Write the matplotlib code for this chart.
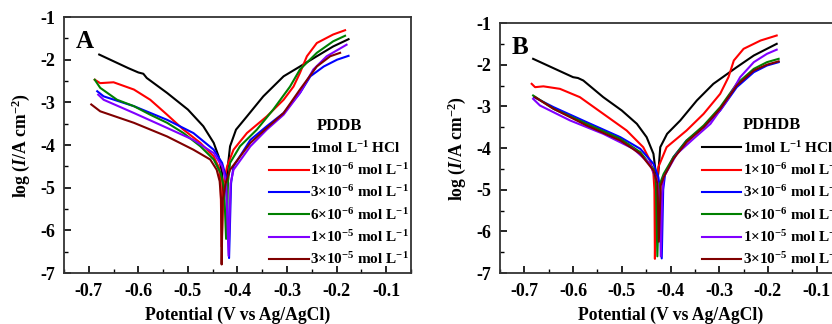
import matplotlib
matplotlib.use('Agg')
import matplotlib.pyplot as plt
from matplotlib.ticker import MultipleLocator

plt.rcParams['font.family'] = 'Liberation Serif'
plt.rcParams['font.weight'] = 'bold'
plt.rcParams['mathtext.fontset'] = 'custom'
plt.rcParams['mathtext.rm'] = 'Liberation Serif:bold'
plt.rcParams['mathtext.bf'] = 'Liberation Serif:bold'
plt.rcParams['mathtext.it'] = 'Liberation Serif:italic:bold'

labels = ['1mol L$^{-1}$ HCl', '1×10$^{-6}$ mol L$^{-1}$', '3×10$^{-6}$ mol L$^{-1}$',
          '6×10$^{-6}$ mol L$^{-1}$', '1×10$^{-5}$ mol L$^{-1}$', '3×10$^{-5}$ mol L$^{-1}$']
colors = ['black', '#ff0000', '#0000ff', '#008000', '#8000ff', '#800000']

# ---- panel A (PDDB): potential (V) and log I
A_E = [
    [-0.679, -0.62, -0.600, -0.590, -0.583, -0.542, -0.500, -0.469, -0.448, -0.438, -0.431, -0.428,
     -0.424, -0.421, -0.415, -0.403, -0.381, -0.348, -0.307, -0.274, -0.240, -0.207, -0.176],
    [-0.688, -0.677, -0.650, -0.609, -0.576, -0.542, -0.509, -0.475, -0.448, -0.437, -0.434, -0.432,
     -0.428, -0.421, -0.408, -0.381, -0.341, -0.307, -0.287, -0.274, -0.260, -0.240, -0.207, -0.183],
    [-0.683, -0.670, -0.609, -0.542, -0.489, -0.448, -0.431, -0.422, -0.417, -0.413, -0.408, -0.374,
     -0.341, -0.307, -0.274, -0.253, -0.226, -0.199, -0.176],
    [-0.688, -0.677, -0.643, -0.609, -0.576, -0.542, -0.509, -0.475, -0.448, -0.434, -0.427, -0.423,
     -0.419, -0.415, -0.395, -0.361, -0.328, -0.294, -0.274, -0.240, -0.207, -0.183],
    [-0.681, -0.670, -0.609, -0.542, -0.489, -0.448, -0.431, -0.423, -0.418, -0.414, -0.408, -0.374,
     -0.341, -0.307, -0.274, -0.247, -0.220, -0.180],
    [-0.695, -0.677, -0.609, -0.542, -0.489, -0.455, -0.442, -0.436, -0.433, -0.432, -0.430, -0.424,
     -0.415, -0.374, -0.341, -0.307, -0.274, -0.240, -0.213, -0.193],
]
A_logI = [
    [-1.88, -2.2, -2.30, -2.33, -2.43, -2.78, -3.17, -3.56, -3.95, -4.27, -4.66, -5.30,
     -4.95, -4.66, -4.03, -3.64, -3.33, -2.86, -2.39, -2.16, -1.92, -1.69, -1.52],
    [-2.47, -2.55, -2.53, -2.70, -2.94, -3.29, -3.64, -3.95, -4.27, -4.54, -4.90, -6.38,
     -4.90, -4.50, -4.11, -3.72, -3.33, -2.94, -2.63, -2.31, -1.92, -1.61, -1.41, -1.31],
    [-2.74, -2.86, -3.09, -3.41, -3.72, -4.11, -4.42, -4.80, -6.65, -4.90, -4.50, -3.88,
     -3.56, -3.25, -2.78, -2.39, -2.16, -2.00, -1.91],
    [-2.47, -2.66, -2.94, -3.09, -3.29, -3.48, -3.72, -4.03, -4.34, -4.66, -5.00, -6.20,
     -4.85, -4.42, -4.03, -3.64, -3.17, -2.63, -2.23, -1.84, -1.57, -1.44],
    [-2.82, -2.94, -3.25, -3.60, -3.88, -4.19, -4.50, -4.85, -6.60, -4.90, -4.58, -4.03,
     -3.64, -3.29, -2.78, -2.23, -1.92, -1.65],
    [-3.05, -3.21, -3.48, -3.80, -4.11, -4.34, -4.58, -4.85, -5.30, -6.80, -5.30, -4.90,
     -4.58, -3.95, -3.60, -3.25, -2.70, -2.16, -1.92, -1.84],
]

# ---- panel B (PDHDB)
B_E = [
    [-0.682, -0.600, -0.590, -0.579, -0.538, -0.500, -0.469, -0.449, -0.435, -0.430, -0.428,
     -0.425, -0.421, -0.407, -0.380, -0.346, -0.312, -0.264, -0.229, -0.182],
    [-0.685, -0.678, -0.661, -0.627, -0.586, -0.538, -0.490, -0.456, -0.442, -0.435, -0.433, -0.432,
     -0.430, -0.425, -0.408, -0.367, -0.332, -0.298, -0.281, -0.270, -0.250, -0.215, -0.182],
    [-0.680, -0.640, -0.572, -0.503, -0.462, -0.435, -0.425, -0.420, -0.418, -0.415, -0.411, -0.394,
     -0.367, -0.332, -0.298, -0.264, -0.229, -0.202, -0.178],
    [-0.682, -0.640, -0.572, -0.503, -0.462, -0.435, -0.430, -0.427, -0.423, -0.414, -0.394,
     -0.367, -0.332, -0.298, -0.264, -0.229, -0.202, -0.178],
    [-0.682, -0.668, -0.606, -0.538, -0.476, -0.442, -0.428, -0.422, -0.420, -0.417, -0.414, -0.387,
     -0.353, -0.318, -0.284, -0.257, -0.229, -0.202, -0.182],
    [-0.678, -0.640, -0.572, -0.503, -0.462, -0.435, -0.427, -0.424, -0.420, -0.414, -0.394,
     -0.367, -0.332, -0.298, -0.264, -0.229, -0.202, -0.178],
]
B_logI = [
    [-1.86, -2.30, -2.32, -2.38, -2.78, -3.10, -3.42, -3.74, -4.14, -4.62, -4.85,
     -4.60, -3.98, -3.66, -3.34, -2.86, -2.46, -2.06, -1.78, -1.50],
    [-2.46, -2.54, -2.52, -2.58, -2.78, -3.18, -3.58, -3.98, -4.30, -4.62, -5.00, -6.66,
     -5.00, -4.46, -3.98, -3.58, -3.18, -2.70, -2.30, -1.90, -1.62, -1.42, -1.30],
    [-2.78, -3.02, -3.38, -3.74, -4.02, -4.38, -4.70, -5.10, -6.65, -5.00, -4.62, -4.22,
     -3.82, -3.50, -3.10, -2.54, -2.18, -2.02, -1.94],
    [-2.74, -3.06, -3.42, -3.78, -4.10, -4.50, -4.80, -6.60, -4.90, -4.62, -4.22,
     -3.82, -3.46, -3.02, -2.46, -2.10, -1.94, -1.86],
    [-2.82, -2.98, -3.34, -3.66, -4.02, -4.38, -4.78, -5.20, -6.60, -5.10, -4.70, -4.14,
     -3.78, -3.42, -2.86, -2.30, -1.94, -1.74, -1.64],
    [-2.78, -3.06, -3.46, -3.82, -4.14, -4.54, -4.85, -6.25, -4.90, -4.70, -4.26,
     -3.86, -3.50, -3.06, -2.50, -2.14, -2.00, -1.92],
]

xticks = [-0.7, -0.6, -0.5, -0.4, -0.3, -0.2, -0.1]
yticks = [-7, -6, -5, -4, -3, -2, -1]

fig = plt.figure(figsize=(8.32, 3.24), dpi=100)
axA = fig.add_axes([64/832, 51/324, 347/832, 256/324])
axB = fig.add_axes([500/832, 51/324, 341/832, 250/324])


def draw(ax, E, logI, letter, title):
    for i in range(6):
        ax.plot(E[i], logI[i], color=colors[i], lw=1.5, label=labels[i])
    ax.set_xlim(-0.75, -0.05)
    ax.set_ylim(-7, -1)
    ax.xaxis.set_minor_locator(MultipleLocator(0.05))
    ax.yaxis.set_minor_locator(MultipleLocator(0.5))
    ax.set_xticks(xticks)
    ax.set_xticklabels(['%.1f' % v for v in xticks])
    ax.set_yticks(yticks)
    ax.set_yticklabels(['%d' % v for v in yticks])
    ax.tick_params(which='major', direction='in', length=5, width=1.2, labelsize=13,
                   top=False, right=False)
    ax.tick_params(axis='x', which='major', pad=7)
    ax.tick_params(axis='y', which='major', pad=6)
    ax.tick_params(which='minor', direction='in', length=3, width=1.0, top=False, right=False)
    for s in ax.spines.values():
        s.set_linewidth(1.3)
        s.set_color('#333333')
    ax.set_xlabel('Potential (V vs Ag/AgCl)', fontsize=12.7, fontweight='bold', labelpad=5)
    ax.set_ylabel('log ($I$/A cm$^{-2}$)', fontsize=12.7, fontweight='bold', labelpad=6)
    ax.text(0.035, 0.95, letter, transform=ax.transAxes, fontsize=18, fontweight='bold',
            va='top', ha='left')
    leg = ax.legend(loc='lower left', bbox_to_anchor=(0.56, -0.02), frameon=False,
                    title=title, fontsize=11, title_fontproperties={'weight': 'bold', 'size': 12},
                    handlelength=2.6, handletextpad=0.1, labelspacing=0.42, borderpad=0.2)
    for t in leg.get_texts():
        t.set_fontweight('bold')


draw(axA, A_E, A_logI, 'A', 'PDDB')
draw(axB, B_E, B_logI, 'B', 'PDHDB')

plt.savefig('out.png', dpi=100)
